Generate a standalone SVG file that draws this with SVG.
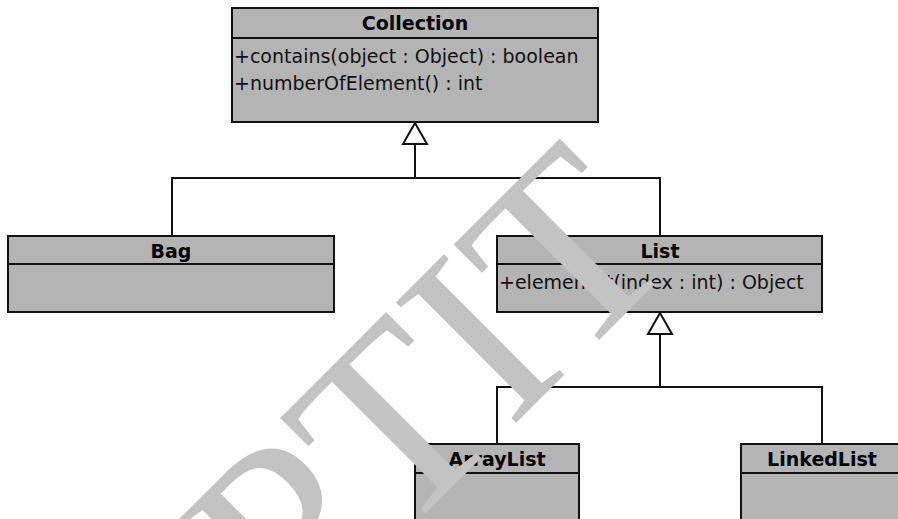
<svg xmlns="http://www.w3.org/2000/svg" width="898" height="519" viewBox="0 0 898 519">
  <defs>
    <style>
      .box { fill: #b4b4b4; stroke: #111; stroke-width: 2; }
      .div { stroke: #111; stroke-width: 2; fill: none; }
      .edge { stroke: #111; stroke-width: 2; fill: none; }
      .head { fill: #fff; stroke: #111; stroke-width: 2; stroke-linejoin: miter; }
      .title { font-family: "DejaVu Sans", sans-serif; font-weight: bold; font-size: 19px; fill: #000; text-anchor: middle; }
      .op { font-family: "DejaVu Sans", sans-serif; font-size: 19px; fill: #111; }
      .mark { font-family: "Liberation Serif", serif; font-size: 260px; fill: #c3c3c3; }
    </style>
  </defs>

  <rect width="898" height="519" fill="#fff"/>

  <!-- generalization connectors -->
  <g id="connectors">
    <polyline class="edge" points="172,236 172,178 660,178 660,236"/>
    <line class="edge" x1="415" y1="178" x2="415" y2="144"/>
    <polygon class="head" points="415,123 403,144 427,144"/>
    <polyline class="edge" points="497,444 497,387 822,387 822,444"/>
    <line class="edge" x1="660" y1="387" x2="660" y2="334"/>
    <polygon class="head" points="660,313 648,334 672,334"/>
  </g>

  <g id="Collection">
    <rect class="box" x="232" y="8" width="366" height="114"/>
    <line class="div" x1="232" y1="38" x2="598" y2="38"/>
    <text class="title" x="415" y="30">Collection</text>
    <text class="op" x="234" y="63">+contains(object : Object) : boolean</text>
    <text class="op" x="234" y="90">+numberOfElement() : int</text>
  </g>

  <g id="Bag">
    <rect class="box" x="8" y="236" width="326" height="76"/>
    <line class="div" x1="8" y1="264" x2="334" y2="264"/>
    <text class="title" x="171" y="258">Bag</text>
  </g>

  <g id="List">
    <rect class="box" x="497" y="236" width="325" height="76"/>
    <line class="div" x1="497" y1="264" x2="822" y2="264"/>
    <text class="title" x="660" y="258">List</text>
    <text class="op" x="499" y="289">+elementAt(index : int) : Object</text>
  </g>

  <g id="ArrayList">
    <rect class="box" x="415" y="444" width="164" height="90"/>
    <line class="div" x1="415" y1="473" x2="579" y2="473"/>
    <text class="title" x="497" y="466">ArrayList</text>
  </g>

  <g id="LinkedList">
    <rect class="box" x="741" y="444" width="162" height="90"/>
    <line class="div" x1="741" y1="473" x2="903" y2="473"/>
    <text class="title" x="822" y="466">LinkedList</text>
  </g>

  <!-- diagonal watermark lettering -->
  <text class="mark" transform="translate(295,644) rotate(-45)">PTIT</text>
</svg>
